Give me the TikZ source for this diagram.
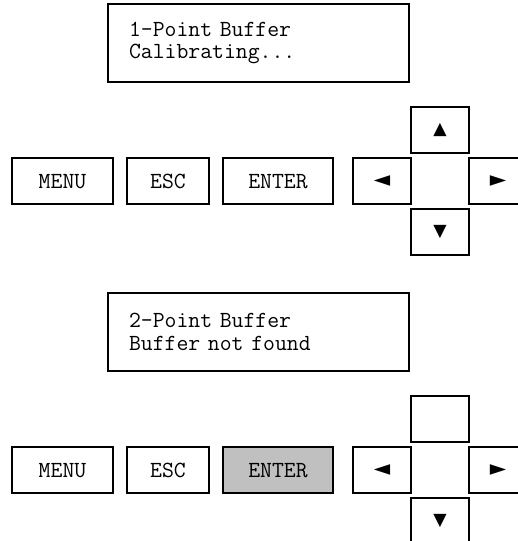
\documentclass[tikz,border=0pt]{standalone}
\usepackage{fontspec}
\newfontfamily\glyphfont{DejaVu Sans}
\usetikzlibrary{positioning}
\definecolor{Ink}{HTML}{000000}
\definecolor{Pressed}{HTML}{C0C0C0}
\newcommand\lcdfont{\ttfamily\fontsize{17.3}{17}\selectfont}
\tikzset{
  lcd/.style={draw=Ink,fill=white,line width=1.1pt,outer sep=0pt,minimum width=225.75pt,minimum height=58.5pt,text width=194.25pt,inner xsep=15.75pt,align=left,font=\lcdfont},
  key/.style={draw=Ink,fill=white,line width=1.1pt,outer sep=0pt,minimum height=34.5pt,inner sep=0pt,text height=10.6pt,text depth=0pt,font=\lcdfont},
  arrowkey/.style={key,minimum width=43.5pt,text height=,text depth=,font=\glyphfont\fontsize{13}{13}\selectfont},
  sidekey/.style={arrowkey,font=\glyphfont\fontsize{16}{16}\selectfont},
  pressed/.style={fill=Pressed}
}

\begin{document}
\begin{tikzpicture}[x=0.75pt,y=-0.75pt]
        \useasboundingbox (0,0) rectangle (517,541);
        \node[lcd] (calib) at (258.5,43) {1-Point Buffer\\Calibrating...};
        \node[key,minimum width=75.75pt] (menuA) at (62.5,181) {MENU};
        \node[key,minimum width=61.5pt,right=10.5pt of menuA] (escA) {ESC};
        \node[key,minimum width=82.5pt,right=10.5pt of escA] (enterA) {ENTER};
        \node[sidekey,right=15pt of enterA] (leftA) {◄};
        \node[arrowkey,above right=3.75pt and 0pt of leftA] (upA) {▲};
        \node[sidekey,below right=3.75pt and 0pt of upA] (rightA) {►};
        \node[arrowkey,below left=3.75pt and 0pt of rightA] (downA) {▼};

        \node[lcd] (nobuf) at (258.5,332) {2-Point Buffer\\Buffer not found};
        \node[key,minimum width=75.75pt] (menuB) at (62.5,470) {MENU};
        \node[key,minimum width=61.5pt,right=10.5pt of menuB] (escB) {ESC};
        \node[key,pressed,minimum width=82.5pt,right=10.5pt of escB] (enterB) {ENTER};
        \node[sidekey,right=15pt of enterB] (leftB) {◄};
        \node[arrowkey,above right=3.75pt and 0pt of leftB] (upB) {};
        \node[sidekey,below right=3.75pt and 0pt of upB] (rightB) {►};
        \node[arrowkey,below left=3.75pt and 0pt of rightB] (downB) {▼};
      \end{tikzpicture}
\end{document}
